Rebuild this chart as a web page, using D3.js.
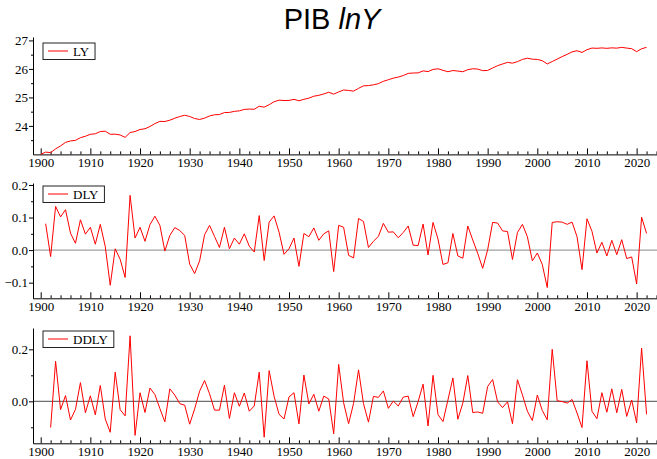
<!DOCTYPE html>
<html>
<head>
<meta charset="utf-8">
<script src="https://cdn.jsdelivr.net/npm/d3@7"></script>
<style>
  body { margin: 0; background: #fff; }
  svg { display: block; }
  .axis text { font-family: "Liberation Serif", "Times New Roman", serif; font-size: 13px; fill: #000; }
  .axis path, .axis line { stroke: #000; }
  .legend text { font-family: "Liberation Serif", "Times New Roman", serif; font-size: 13px; }
</style>
</head>
<body>
<div id="chart"></div>
<script>
"use strict";

// series LY (log of GDP), 1900 - 2022
const lyStart = 1900;
const lyValues = [
  23.000, 23.081, 23.061, 23.195, 23.297, 23.421, 23.473, 23.494, 23.587, 23.636,
  23.706, 23.724, 23.803, 23.814, 23.706, 23.710, 23.682, 23.598, 23.766, 23.803,
  23.873, 23.900, 23.978, 24.082, 24.158, 24.155, 24.200, 24.269, 24.329, 24.374,
  24.331, 24.259, 24.226, 24.273, 24.349, 24.391, 24.399, 24.469, 24.473, 24.510,
  24.528, 24.578, 24.590, 24.584, 24.690, 24.658, 24.744, 24.849, 24.904, 24.891,
  24.895, 24.932, 24.882, 24.933, 24.974, 25.042, 25.072, 25.122, 25.181, 25.115,
  25.191, 25.261, 25.245, 25.221, 25.318, 25.406, 25.414, 25.441, 25.483, 25.565,
  25.620, 25.676, 25.714, 25.768, 25.842, 25.857, 25.861, 25.931, 25.906, 25.981,
  26.005, 25.951, 25.902, 25.943, 25.925, 25.900, 25.974, 26.005, 25.995, 25.939,
  25.946, 26.031, 26.114, 26.173, 26.230, 26.201, 26.255, 26.334, 26.375, 26.342,
  26.333, 26.289, 26.174, 26.259, 26.346, 26.432, 26.511, 26.597, 26.638, 26.578,
  26.674, 26.732, 26.723, 26.737, 26.722, 26.739, 26.729, 26.757, 26.731, 26.710,
  26.606, 26.707, 26.758
];

// series DLY (first difference), 1901 - 2022
const dlyStart = 1901;
const dlyValues = [
  0.081, -0.020, 0.134, 0.102, 0.124, 0.052, 0.021, 0.093, 0.049,
  0.070, 0.018, 0.079, 0.011, -0.108, 0.004, -0.028, -0.084, 0.168, 0.037,
  0.070, 0.027, 0.078, 0.104, 0.076, -0.003, 0.045, 0.069, 0.060, 0.045,
  -0.043, -0.072, -0.033, 0.047, 0.076, 0.042, 0.008, 0.070, 0.004, 0.037,
  0.018, 0.050, 0.012, -0.006, 0.106, -0.032, 0.086, 0.105, 0.055, -0.013,
  0.004, 0.037, -0.050, 0.051, 0.041, 0.068, 0.030, 0.050, 0.059, -0.066,
  0.076, 0.070, -0.016, -0.024, 0.097, 0.088, 0.008, 0.027, 0.042, 0.082,
  0.055, 0.056, 0.038, 0.054, 0.074, 0.015, 0.014, 0.080, -0.015, 0.085,
  0.034, -0.044, -0.039, 0.051, -0.018, -0.025, 0.074, 0.031, -0.010, -0.056,
  0.001, 0.085, 0.083, 0.059, 0.057, -0.029, 0.054, 0.079, 0.041, -0.033,
  -0.009, -0.044, -0.115, 0.085, 0.087, 0.086, 0.079, 0.086, 0.041, -0.060,
  0.096, 0.058, -0.009, 0.024, -0.018, 0.030, -0.014, 0.032, -0.026, -0.021,
  -0.104, 0.101, 0.051
];

// series DDLY (second difference), 1902 - 2022
const ddlyStart = 1902;
const ddlyValues = [
  -0.101, 0.154, -0.032, 0.022, -0.072, -0.031, 0.072, -0.044,
  0.021, -0.052, 0.061, -0.068, -0.119, 0.112, -0.032, -0.056, 0.252, -0.131,
  0.033, -0.043, 0.051, 0.026, -0.028, -0.079, 0.048, 0.024, -0.009, -0.015,
  -0.088, -0.029, 0.039, 0.080, 0.029, -0.034, -0.034, 0.062, -0.066, 0.033,
  -0.019, 0.032, -0.038, -0.018, 0.112, -0.138, 0.118, 0.019, -0.050, -0.068,
  0.017, 0.033, -0.087, 0.101, -0.010, 0.027, -0.038, 0.020, 0.009, -0.125,
  0.142, -0.006, -0.086, -0.008, 0.121, -0.009, -0.080, 0.019, 0.015, 0.040,
  -0.027, 0.001, -0.018, 0.016, 0.020, -0.059, -0.001, 0.066, -0.095, 0.100,
  -0.051, -0.078, 0.005, 0.090, -0.069, -0.007, 0.099, -0.043, -0.041, -0.046,
  0.057, 0.084, -0.002, -0.024, -0.002, -0.086, 0.083, 0.025, -0.038, -0.074,
  0.024, -0.035, -0.071, 0.200, 0.002, -0.001, -0.007, 0.007, -0.045, -0.101,
  0.156, -0.038, -0.067, 0.033, -0.042, 0.048, -0.044, 0.046, -0.058, 0.005,
  -0.083, 0.205, -0.050
];

// axis ticks
const xMajorTicks = [1900, 1910, 1920, 1930, 1940, 1950, 1960, 1970, 1980, 1990, 2000, 2010, 2020];
const lyTicks = [24, 25, 26, 27];
const dlyTicks = [-0.1, 0.0, 0.1, 0.2];
const ddlyTicks = [0.0, 0.2];

const width = 657, height = 459;

const svg = d3.select("#chart").append("svg")
    .attr("width", width)
    .attr("height", height);

// title: "PIB lnY"
const title = svg.append("text")
    .attr("x", 332)
    .attr("y", 29)
    .attr("text-anchor", "middle")
    .style("font-family", "'Liberation Sans', Arial, sans-serif")
    .style("font-size", "29px");
title.append("tspan").text("PIB ");
title.append("tspan").style("font-style", "italic").text("lnY");

// shared x scale (all three panels line up)
const x = d3.scaleLinear().domain([1898.45, 2024.1]).range([33, 657]);

const xMinorTicks = d3.range(1900, 2025, 2).filter(d => d % 10 !== 0);

const panels = [
    { name: "LY", start: lyStart, values: lyValues, domain: [23, 27.12], range: [154.4, 37],
      ticks: lyTicks, minor: [23.5, 24.5, 25.5, 26.5], fmt: d3.format("d"), zero: null, legendTop: 43 },
    { name: "DLY", start: dlyStart, values: dlyValues, domain: [-0.148, 0.206], range: [298.3, 183],
      ticks: dlyTicks, minor: [-0.05, 0.05, 0.15], fmt: d3.format(".1f"), zero: "#a0a0a0", legendTop: 186 },
    { name: "DDLY", start: ddlyStart, values: ddlyValues, domain: [-0.1615, 0.282], range: [443.3, 328],
      ticks: ddlyTicks, minor: [-0.1, 0.1], fmt: d3.format(".1f"), zero: "#707070", legendTop: 331 }
];

panels.forEach(function (p) {

    const y = d3.scaleLinear().domain(p.domain).range(p.range);
    const g = svg.append("g");

    // zero reference line
    if (p.zero) {
        g.append("line")
            .attr("x1", x.range()[0]).attr("x2", x.range()[1])
            .attr("y1", y(0)).attr("y2", y(0))
            .attr("stroke", p.zero)
            .attr("stroke-width", 1.2);
    }

    // x axis, ticks pointing up into the plot
    g.append("g")
        .attr("class", "axis")
        .attr("transform", "translate(0," + p.range[0] + ")")
        .call(d3.axisBottom(x).tickValues(xMajorTicks).tickFormat(d3.format("d"))
            .tickSizeInner(-6).tickSizeOuter(0).tickPadding(3));
    g.append("g")
        .attr("class", "axis")
        .attr("transform", "translate(0," + p.range[0] + ")")
        .call(d3.axisBottom(x).tickValues(xMinorTicks).tickFormat("")
            .tickSizeInner(-3).tickSizeOuter(0))
        .select(".domain").remove();

    // y axis
    g.append("g")
        .attr("class", "axis")
        .attr("transform", "translate(" + x.range()[0] + ",0)")
        .call(d3.axisLeft(y).tickValues(p.ticks).tickFormat(p.fmt)
            .tickSizeInner(4).tickSizeOuter(0).tickPadding(1));
    g.append("g")
        .attr("class", "axis")
        .attr("transform", "translate(" + x.range()[0] + ",0)")
        .call(d3.axisLeft(y).tickValues(p.minor).tickFormat("")
            .tickSizeInner(2).tickSizeOuter(0))
        .select(".domain").remove();

    // the series
    const line = d3.line()
        .x((d, i) => x(p.start + i))
        .y(d => y(d));

    g.append("path")
        .datum(p.values)
        .attr("fill", "none")
        .attr("stroke", "#ff0000")
        .attr("stroke-width", 1)
        .attr("d", line);

    // legend box
    const lg = g.append("g")
        .attr("class", "legend")
        .attr("transform", "translate(43," + p.legendTop + ")");
    const label = lg.append("text")
        .attr("x", 30)
        .attr("y", 12.5)
        .text(p.name);
    const tw = label.node().getComputedTextLength();
    lg.insert("rect", "text")
        .attr("width", 30 + tw + 6)
        .attr("height", 16.5)
        .attr("fill", "#fff")
        .attr("stroke", "#222")
        .attr("stroke-width", 1);
    lg.append("line")
        .attr("x1", 5).attr("x2", 25)
        .attr("y1", 8).attr("y2", 8)
        .attr("stroke", "#ff0000")
        .attr("stroke-width", 1);
});
</script>
</body>
</html>
